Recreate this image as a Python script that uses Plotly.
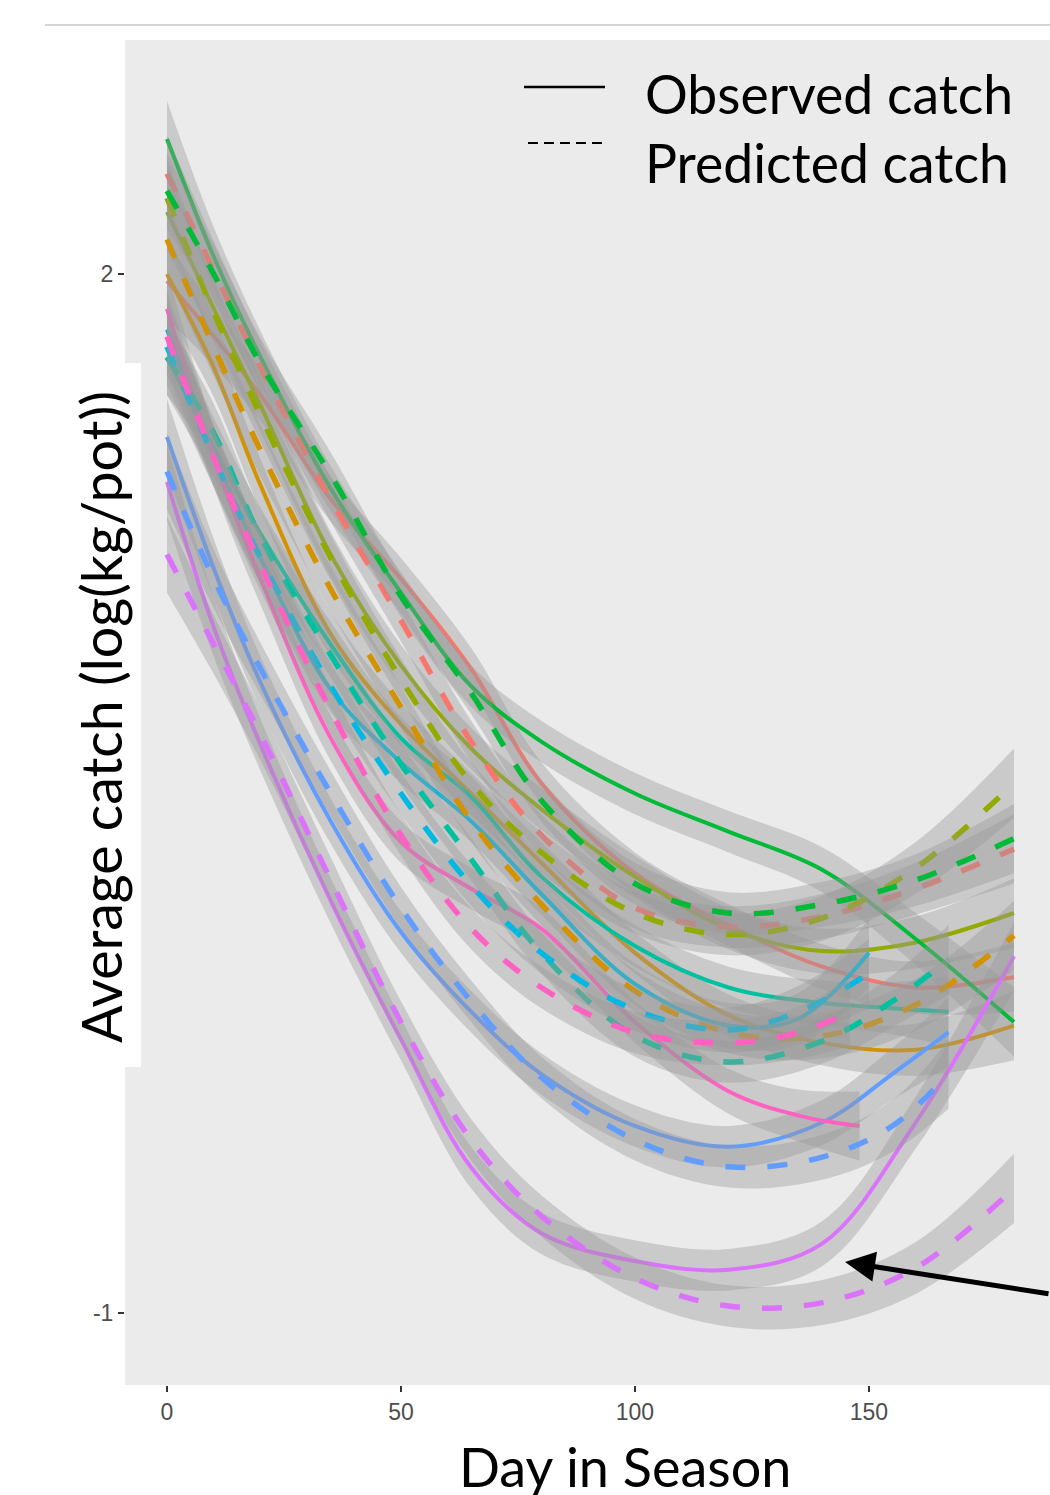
import plotly.graph_objects as go

# ---------------- data ----------------
days_full = [0, 10, 20, 35, 50, 65, 80, 100, 120, 140, 160, 181]
days_167 = [0, 10, 20, 35, 50, 65, 80, 100, 120, 140, 155, 167]
days_150 = [0, 10, 20, 35, 50, 65, 80, 100, 120, 135, 150]
days_148 = [0, 10, 20, 35, 50, 65, 80, 100, 120, 135, 148]
days_146 = [0, 10, 20, 35, 50, 65, 80, 100, 120, 135, 146]

obs_salmon = [1.98, 1.82, 1.65, 1.35, 1.12, 0.86, 0.53, 0.27, 0.12, 0.00, -0.06, -0.03]
pred_salmon = [2.29, 2.01, 1.73, 1.35, 1.00, 0.65, 0.38, 0.17, 0.115, 0.145, 0.225, 0.34]

obs_orange = [2.00, 1.73, 1.39, 0.96, 0.70, 0.50, 0.30, 0.04, -0.14, -0.22, -0.24, -0.17]
pred_orange = [2.10, 1.79, 1.49, 1.09, 0.75, 0.42, 0.18, -0.07, -0.19, -0.20, -0.11, 0.09]

obs_olive = [2.18, 1.90, 1.62, 1.19, 0.87, 0.63, 0.455, 0.26, 0.11, 0.045, 0.07, 0.155]
pred_olive = [2.22, 1.89, 1.59, 1.18, 0.83, 0.53, 0.33, 0.155, 0.093, 0.14, 0.285, 0.53]

obs_green = [2.39, 2.05, 1.76, 1.38, 1.08, 0.81, 0.65, 0.50, 0.39, 0.28, 0.08, -0.16]
pred_green = [2.24, 2.00, 1.74, 1.42, 1.07, 0.79, 0.48, 0.24, 0.155, 0.18, 0.25, 0.37]

obs_teal = [1.76, 1.50, 1.25, 0.93, 0.66, 0.49, 0.26, 0.06, -0.06, -0.105, -0.12, -0.13]
pred_teal = [1.76, 1.54, 1.24, 0.90, 0.585, 0.31, 0.04, -0.20, -0.275, -0.215, -0.10, 0.02]

obs_cyan = [1.84, 1.48, 1.18, 0.80, 0.59, 0.42, 0.21, -0.05, -0.17, -0.15, 0.04]
pred_cyan = [1.79, 1.47, 1.18, 0.81, 0.50, 0.235, 0.04, -0.125, -0.183, -0.13, -0.02]

obs_blue = [1.53, 1.15, 0.82, 0.42, 0.10, -0.13, -0.31, -0.46, -0.52, -0.45, -0.31, -0.19]
pred_blue = [1.43, 1.12, 0.86, 0.50, 0.17, -0.10, -0.32, -0.50, -0.578, -0.55, -0.46, -0.31]

obs_purple = [1.40, 0.98, 0.64, 0.19, -0.21, -0.58, -0.77, -0.85, -0.875, -0.80, -0.45, 0.03]
pred_purple = [1.19, 0.93, 0.67, 0.25, -0.16, -0.50, -0.72, -0.90, -0.98, -0.97, -0.87, -0.64]

obs_pink = [1.90, 1.47, 1.12, 0.66, 0.36, 0.225, 0.11, -0.16, -0.36, -0.43, -0.46]
pred_pink = [1.82, 1.47, 1.16, 0.74, 0.38, 0.11, -0.06, -0.19, -0.22, -0.19, -0.13]

# half-width of the confidence ribbons at each knot
se_12 = [0.11, 0.085, 0.075, 0.065, 0.06, 0.06, 0.06, 0.06, 0.06, 0.065, 0.075, 0.10]
se_11 = [0.11, 0.085, 0.075, 0.065, 0.06, 0.06, 0.06, 0.06, 0.065, 0.075, 0.10]

x_ticks = [0, 50, 100, 150]
y_ticks = [-1, 2]
y_tick_text = ["-1", "2"]

group_colors = ["#F8766D", "#D39200", "#93AA00", "#00BA38", "#00C19F",
                "#00B9E3", "#619CFF", "#DB72FB", "#FF61C3"]

observed = [
    (days_full, obs_salmon, se_12), (days_full, obs_orange, se_12),
    (days_full, obs_olive, se_12), (days_full, obs_green, se_12),
    (days_167, obs_teal, se_12), (days_150, obs_cyan, se_11),
    (days_167, obs_blue, se_12), (days_full, obs_purple, se_12),
    (days_148, obs_pink, se_11),
]
predicted = [
    (days_full, pred_salmon, se_12), (days_full, pred_orange, se_12),
    (days_full, pred_olive, se_12), (days_full, pred_green, se_12),
    (days_167, pred_teal, se_12), (days_150, pred_cyan, se_11),
    (days_167, pred_blue, se_12), (days_full, pred_purple, se_12),
    (days_146, pred_pink, se_11),
]

RIBBON = "rgba(153,153,153,0.4)"

fig = go.Figure()


def add_layer(series, dash, width):
    for color, (d, v, se) in zip(group_colors, series):
        lo = [a - b for a, b in zip(v, se)]
        hi = [a + b for a, b in zip(v, se)]
        fig.add_trace(go.Scatter(x=d, y=lo, mode="lines",
                                 line=dict(width=0, shape="spline", smoothing=1),
                                 showlegend=False, hoverinfo="skip"))
        fig.add_trace(go.Scatter(x=d, y=hi, mode="lines", fill="tonexty",
                                 fillcolor=RIBBON,
                                 line=dict(width=0, shape="spline", smoothing=1),
                                 showlegend=False, hoverinfo="skip"))
        fig.add_trace(go.Scatter(x=d, y=v, mode="lines",
                                 line=dict(color=color, width=width, dash=dash,
                                           shape="spline", smoothing=1),
                                 showlegend=False))


add_layer(observed, "solid", 4)
add_layer(predicted, "20px,22px", 5.5)

# ---------------- layout (page pixels) ----------------
W, H = 1050, 1495
PANEL_L, PANEL_T, PANEL_B = 125, 40, 1385
L, T, B, R = PANEL_L, PANEL_T, H - PANEL_B, 0
PW, PH = W - L - R, H - T - B


def px(x):
    return (x - L) / PW


def py(y):
    return (H - B - y) / PH


TXT = "Lato, 'Open Sans', sans-serif"
TICKFONT = dict(family="Liberation Sans, Arial", size=23, color="#4D4D4D")

fig.update_layout(
    width=W, height=H,
    margin=dict(l=L, r=R, t=T, b=B, pad=0),
    paper_bgcolor="white", plot_bgcolor="#EBEBEB",
    showlegend=False,
    xaxis=dict(range=[-8.97, 188.7], tickvals=x_ticks,
               ticks="outside", ticklen=6, tickwidth=2, tickcolor="#333333",
               tickfont=TICKFONT, showgrid=False, zeroline=False, showline=False),
    yaxis=dict(range=[-1.208, 2.676], tickvals=y_ticks, ticktext=y_tick_text,
               ticks="outside", ticklen=6, tickwidth=2, tickcolor="#333333",
               tickfont=TICKFONT, showgrid=False, zeroline=False, showline=False),
    shapes=[
        dict(type="line", xref="paper", yref="paper", x0=px(45), x1=1.0,
             y0=py(25), y1=py(25), line=dict(color="#C8C8C8", width=1.5)),
        dict(type="rect", xref="paper", yref="paper", x0=px(30), x1=px(141),
             y0=py(1067), y1=py(363), fillcolor="white", line=dict(width=0),
             layer="above"),
        dict(type="line", xref="paper", yref="paper", x0=px(524), x1=px(605),
             y0=py(87), y1=py(87), line=dict(color="black", width=2.5)),
        dict(type="line", xref="paper", yref="paper", x0=px(528), x1=px(608),
             y0=py(143), y1=py(143), line=dict(color="black", width=2, dash="10px,6px")),
    ],
    annotations=[
        dict(text="Observed catch", xref="paper", yref="paper", x=px(643), y=py(93),
             xanchor="left", yanchor="middle", showarrow=False,
             font=dict(family=TXT, size=53.5, color="black")),
        dict(text="Predicted catch", xref="paper", yref="paper", x=px(643), y=py(162),
             xanchor="left", yanchor="middle", showarrow=False,
             font=dict(family=TXT, size=53.5, color="black")),
        dict(text="Day in Season", xref="paper", yref="paper", x=px(625), y=py(1466),
             xanchor="center", yanchor="middle", showarrow=False,
             font=dict(family=TXT, size=54, color="black")),
        dict(text="Average catch (log(kg/pot))", xref="paper", yref="paper",
             x=px(100), y=py(717), textangle=-90,
             xanchor="center", yanchor="middle", showarrow=False,
             font=dict(family=TXT, size=55.5, color="black")),
        dict(text="", x=144.9, y=-0.853, xref="x", yref="y", showarrow=True,
             ax=215, ay=32, arrowhead=2, arrowsize=1.2, arrowwidth=5,
             arrowcolor="black", standoff=0),
    ],
)

fig.write_html(
    "out.html",
    config={"displayModeBar": False},
    post_script="document.body.style.margin='0';"
                "document.body.style.overflow='hidden';",
)
